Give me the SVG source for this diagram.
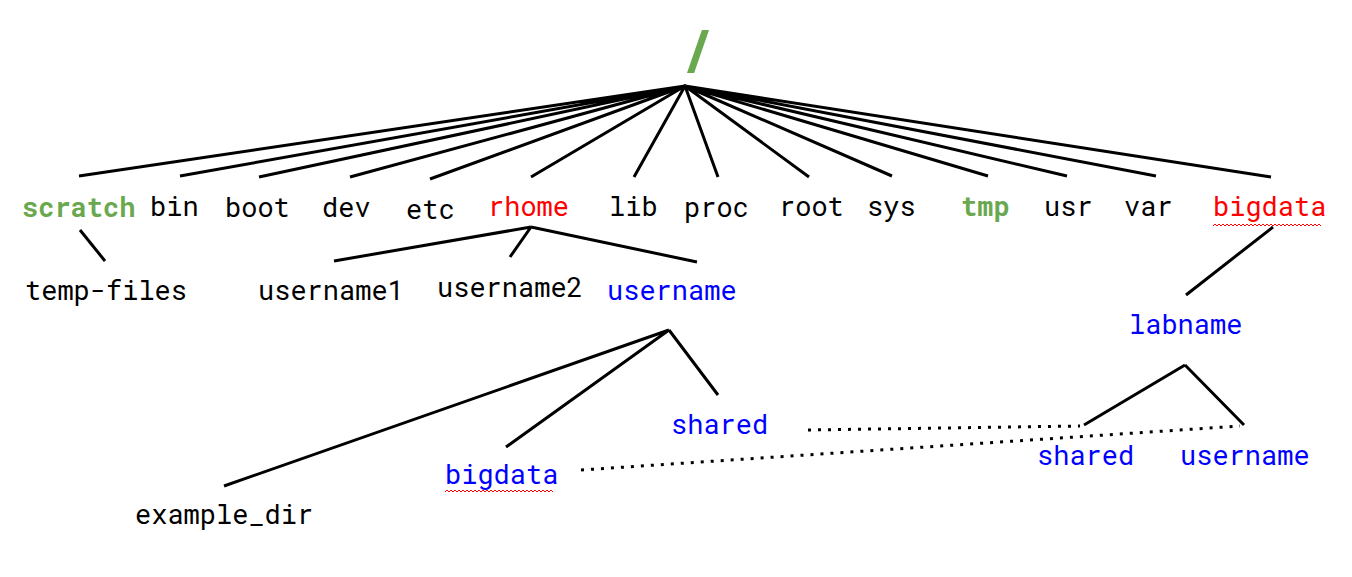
<svg xmlns="http://www.w3.org/2000/svg" width="1352" height="577" viewBox="0 0 1352 577">
<style>
text{font-family:"Roboto Mono","DejaVu Sans Mono","Liberation Mono",monospace;font-size:27px;fill:#000}
.g{fill:#6aa84f;font-weight:bold}
.r{fill:#ff0000}
.b{fill:#0000ff}
.e{stroke:#000;stroke-width:3;fill:none;stroke-linecap:butt}
.d{stroke:#000;stroke-width:3;fill:none;stroke-dasharray:3 7}
.w{stroke:#ff0000;stroke-width:1;fill:none}
</style>
<defs>
<path id="sq" class="w" d="M0 0l2-2 2 2 2-2 2 2 2-2 2 2 2-2 2 2 2-2 2 2 2-2 2 2 2-2 2 2 2-2 2 2 2-2 2 2 2-2 2 2 2-2 2 2 2-2 2 2 2-2 2 2 2-2 2 2 2-2 2 2 2-2 2 2 2-2 2 2 2-2 2 2 2-2 2 2 2-2 2 2 2-2 2 2 2-2 2 2 2-2 2 2 2-2 2 2 2-2 2 2 2-2 2 2 2-2 2 2"/>
</defs>
<rect width="1352" height="577" fill="#fff"/>
<g id="connectors">
<path class="e" d="M685 86L79 176M685 86L180 176M685 86L259 177M685 86L350 177M685 86L430 179M685 86L531 177M685 86L634 177M685 86L718 177M685 86L809 177M685 86L892 176M685 86L988 176M685 86L1067 176M685 86L1156 176M685 86L1271 177"/>
<path class="e" d="M80 230L105 261"/>
<path class="e" d="M531 227L334 261M531 227L510 257M531 227L697 262"/>
<path class="e" d="M669 330L224 486M669 330L506 447M669 330L718 395"/>
<path class="e" d="M1273 227L1186 295"/>
<path class="e" d="M1185 365L1084 425M1185 365L1244 425"/>
<path class="d" d="M808 430L1080 426"/>
<path class="d" d="M581 470L1240 426"/>
</g>
<g id="root"><text x="681" y="70" class="g" style="font-size:56px">/</text></g>
<g id="scratch"><text x="22" y="217" class="g">scratch</text></g>
<g id="bin"><text x="150" y="216">bin</text></g>
<g id="boot"><text x="225" y="217">boot</text></g>
<g id="dev"><text x="322" y="217">dev</text></g>
<g id="etc"><text x="406" y="219">etc</text></g>
<g id="rhome"><text x="488" y="216" class="r">rhome</text></g>
<g id="lib"><text x="609" y="216">lib</text></g>
<g id="proc"><text x="684" y="217">proc</text></g>
<g id="rootdir"><text x="779" y="216">root</text></g>
<g id="sys"><text x="867" y="216">sys</text></g>
<g id="tmp"><text x="961" y="216" class="g">tmp</text></g>
<g id="usr"><text x="1044" y="216">usr</text></g>
<g id="var"><text x="1124" y="216">var</text></g>
<g id="bigdata-top"><text x="1213" y="216" class="r">bigdata</text>
<use href="#sq" x="1213" y="226"/></g>
<g id="temp-files"><text x="25" y="300">temp-files</text></g>
<g id="username1"><text x="258" y="300">username1</text></g>
<g id="username2"><text x="437" y="297">username2</text></g>
<g id="username"><text x="607" y="300" class="b">username</text></g>
<g id="labname"><text x="1129" y="334" class="b">labname</text></g>
<g id="shared-left"><text x="671" y="434" class="b">shared</text></g>
<g id="bigdata-bottom"><text x="445" y="484" class="b">bigdata</text>
<use href="#sq" x="445" y="492"/></g>
<g id="example_dir"><text x="135" y="524">example_dir</text></g>
<g id="shared-right"><text x="1037" y="465" class="b">shared</text></g>
<g id="username-right"><text x="1180" y="465" class="b">username</text></g>
</svg>
